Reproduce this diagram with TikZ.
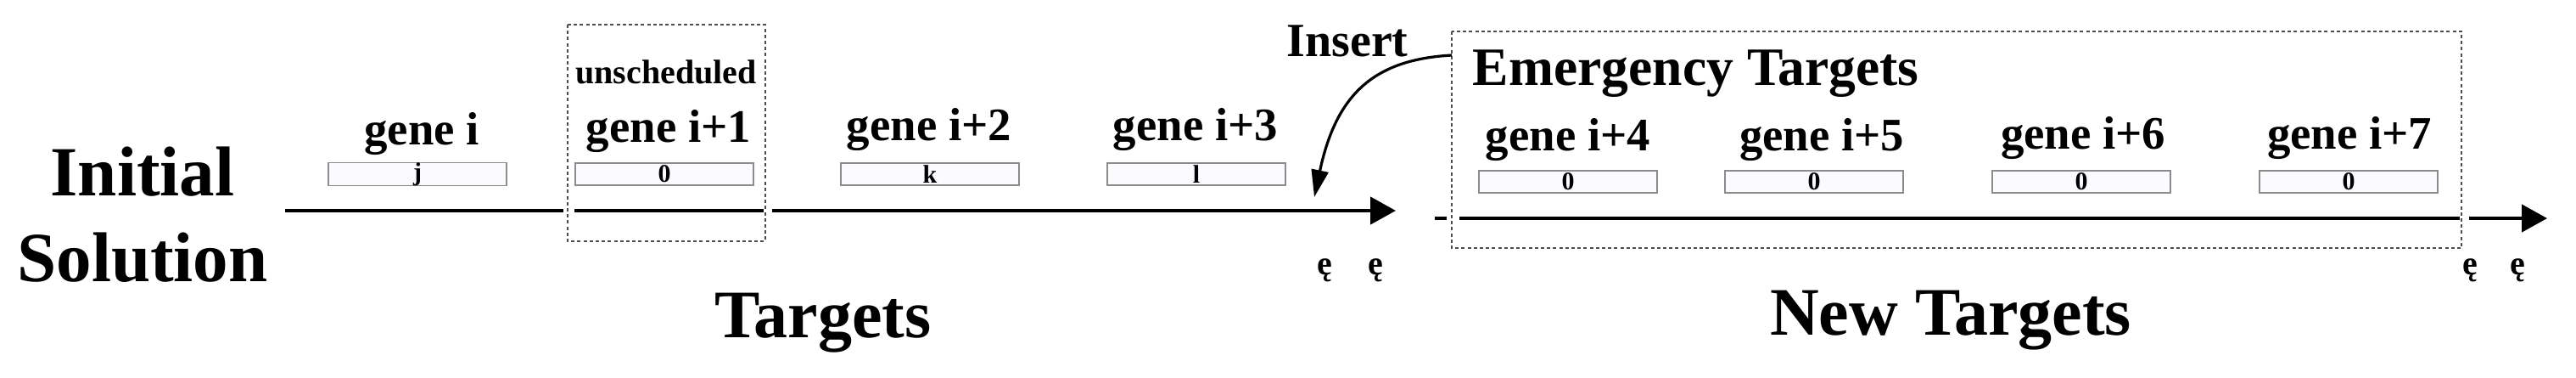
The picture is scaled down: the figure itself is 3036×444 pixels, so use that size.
\documentclass[tikz,border=0pt]{standalone}
\usepackage{fontspec}
\setmainfont{Liberation Serif}
\usetikzlibrary{arrows.meta}
\begin{document}
\begin{tikzpicture}[x=0.25pt,y=-0.25pt,
  txt/.style={font=\bfseries\fontsize{#1}{#1}\selectfont,inner sep=0pt},
  gbox/.style={draw=gray!90,line width=0.35pt,fill=blue!2,minimum width=52.5pt,minimum height=6.5pt,inner sep=0pt,font=\bfseries\fontsize{7.5}{7.5}\selectfont},
  dbox/.style={draw=black!70,dashed,dash pattern=on 1pt off 0.8pt,line width=0.3pt},
  axis/.style={line width=1.1pt},
  tip/.style={-{Triangle[length=7.5pt,width=8pt]}}]
\useasboundingbox (0,0) rectangle (3036,444);
% labels
\node[txt=20.75pt] (ini) at (168,202) {Initial};
\node[txt=20.75pt] (sol) at (168,303) {Solution};
\node[txt=20pt] (tg) at (970,380) {Targets};
\node[txt=20pt] (ntg) at (2299,377) {New Targets};
\node[txt=14pt] (ins) at (1588,48) {Insert};
% dashed boxes
\draw[dbox] (669,29) rectangle (902,284);
\draw[dbox] (1711,37) rectangle (2901,292);
\coordinate (emg) at (1711,65);
\node[txt=10pt] (uns) at (785,85) {unscheduled};
\node[txt=15.9pt,anchor=west] (em) at (1735,87) {Emergency Targets};
% genes
\foreach \n/\x/\y/\lab/\bx/\by in {a/497/158/i/492/205, b/788/155/i+1/783/205, c/1095/153/i+2/1096/205, d/1409/153/i+3/1410/205,
  e/1848/165/i+4/1848/214, f/2147/165/i+5/2138/214, g/2455/163/i+6/2453/214, h/2769/163/i+7/2768/214}{
  \node[txt=13.7pt] (g\n) at (\x,\y) {gene \lab};
}
\node[gbox] (ba) at (492,205) {j};
\node[gbox] (bb) at (783,205) {0};
\node[gbox] (bc) at (1096,205) {k};
\node[gbox] (bd) at (1410,205) {l};
\node[gbox] (be) at (1848,214) {0};
\node[gbox] (bf) at (2138,214) {0};
\node[gbox] (bg) at (2453,214) {0};
\node[gbox] (bh) at (2768,214) {0};
% axes
\coordinate (a0) at (336,248); \coordinate (a1) at (664,248);
\coordinate (a2) at (677,248); \coordinate (a3) at (900,248);
\coordinate (a4) at (910,248); \coordinate (a5) at (1645,248);
\draw[axis] (a0) -- (a1); \draw[axis] (a2) -- (a3); \draw[axis,tip] (a4) -- (a5);
\coordinate (b0) at (1691,257); \coordinate (b1) at (1705,257);
\coordinate (b2) at (1720,257); \coordinate (b3) at (2899,257);
\coordinate (b4) at (2910,257); \coordinate (b5) at (3002,257);
\draw[axis] (b0) -- (b1); \draw[axis] (b2) -- (b3); \draw[axis,tip] (b4) -- (b5);
% insert arrow
\coordinate (it) at (1549,232);
\draw[line width=0.8pt,-{Triangle[length=8pt,width=5pt]}] (emg) .. controls (1620,70) and (1575,110) .. (it);
% ticks
\node[txt=10pt] (e1) at (1561,318) {ę};
\node[txt=10pt] (e2) at (1621,318) {ę};
\node[txt=10pt] (e3) at (2911,318) {ę};
\node[txt=10pt] (e4) at (2967,318) {ę};
\end{tikzpicture}
\end{document}
